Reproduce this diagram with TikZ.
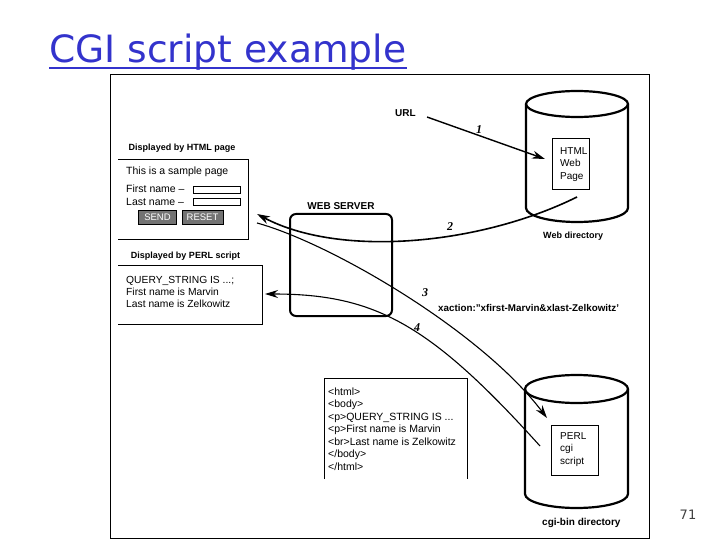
\documentclass[tikz,border=0pt]{standalone}
\usepackage{fontspec}
\setmainfont{Liberation Sans}
\newfontfamily\titlefont{DejaVu Sans}
\newfontfamily\numfont{Liberation Serif}
\usetikzlibrary{arrows.meta}
\definecolor{titleblue}{RGB}{51,51,204}
\begin{document}
\begin{tikzpicture}[x=1pt,y=-1pt,
  txt/.style={inner sep=0, anchor=west, font=\fontsize{10.5}{12}\selectfont},
  mtxt/.style={inner sep=0, anchor=north west, align=left, font=\fontsize{10.5}{12.5}\selectfont},
  boldlab/.style={inner sep=0, font=\fontsize{9}{10}\selectfont\bfseries},
  cylline/.style={line width=2.2pt},
  thinbox/.style={line width=0.9pt},
  arr/.style={-{Stealth[length=13pt,width=8pt]}, line width=1.2pt},
  num/.style={inner sep=0, font=\numfont\itshape\bfseries\fontsize{12}{12}\selectfont},
  btn/.style={draw, line width=0.8pt, fill=black!55, text=white, inner sep=0,
    minimum height=14pt, font=\fontsize{9.5}{10}\selectfont},
]
\useasboundingbox (0,0) rectangle (720,540);

% title
\node[anchor=base west, inner sep=0, text=titleblue,
  font=\titlefont\fontsize{37.6}{40}\selectfont] (title) at (49,63) {CGI script example};
\draw[titleblue, line width=1.6pt] (title.base west) ++(0,5) -- ++(358,0);

% frame
\draw[line width=1pt] (110,75) rectangle (649,538);

% web directory cylinder
\draw[cylline] (577,104) ellipse [x radius=51pt, y radius=13pt];
\draw[cylline] (526,104) -- (526,208) arc[start angle=180, end angle=360, x radius=51pt, y radius=14pt] -- (628,104);
\node[draw, thinbox, minimum width=37pt, minimum height=51pt, inner sep=0] (hbox) at (570.5,163.5) {};
\node[mtxt, font=\fontsize{10}{12.5}\selectfont] (htxt) at (560,147) {HTML\\Web\\Page};
\node[boldlab, anchor=west] (wdl) at (543,236) {Web directory};

% URL
\node[boldlab, anchor=west, font=\fontsize{10}{11}\selectfont\bfseries] (url) at (395,113) {URL};

% web server
\node[draw, line width=2pt, rounded corners=6pt, minimum width=102pt, minimum height=102pt, inner sep=0] (ws) at (341,265) {};
\node[boldlab, font=\fontsize{10}{11}\selectfont\bfseries] (wsl) at (341,206) {WEB SERVER};

% HTML page form
\node[boldlab] (formlab) at (182,148) {Displayed by HTML page};
\draw[thinbox] (118,159) -- (248,159) -- (248,239) -- (118,239);
\node[txt] (f1) at (126,172) {This is a sample page};
\node[txt] (f2) at (126,189) {First name --};
\node[txt] (f3) at (126,202) {Last name --};
\draw[line width=0.8pt] (193,186) rectangle (240,193);
\draw[line width=0.8pt] (193,198) rectangle (240,205);
\node[btn, minimum width=38pt] (send) at (157.5,217) {SEND};
\node[btn, minimum width=41pt] (reset) at (202.5,217) {RESET};

% PERL output
\node[boldlab] (perllab) at (185.5,256) {Displayed by PERL script};
\draw[thinbox] (118,265) -- (262,265) -- (262,324) -- (118,324);
\node[mtxt, font=\fontsize{10.3}{11.6}\selectfont] (ptxt) at (126,276.5) {QUERY\_STRING IS ...;\\First name is Marvin\\Last name is Zelkowitz};

% query label
\node[boldlab, anchor=west, font=\fontsize{9.8}{11}\selectfont\bfseries] (xact) at (438,308) {xaction:"xfirst-Marvin\&xlast-Zelkowitz'};

% HTML code box
\draw[thinbox] (324,479) -- (324,378) -- (467,378) -- (467,479);
\node[mtxt] (code) at (328,387.5) {<html>\\<body>\\<p>QUERY\_STRING IS ...\\<p>First name is Marvin\\<br>Last name is Zelkowitz\\</body>\\</html>};

% cgi-bin cylinder
\draw[cylline] (576.5,389) ellipse [x radius=51.5pt, y radius=14pt];
\draw[cylline] (525,389) -- (525,494) arc[start angle=180, end angle=360, x radius=51.5pt, y radius=14pt] -- (628,389);
\node[draw, thinbox, minimum width=47pt, minimum height=50pt, inner sep=0] (pbox) at (574.5,450) {};
\node[mtxt, font=\fontsize{10}{12.5}\selectfont] (ptxt2) at (560,432) {PERL\\cgi\\script};
\node[boldlab, anchor=west, font=\fontsize{10}{11}\selectfont\bfseries] (cgil) at (542,523) {cgi-bin directory};

% page number
\node[inner sep=0, text=black!75, font=\titlefont\fontsize{13}{14}\selectfont] (pg) at (688,515) {71};

% connectors
\coordinate (a1s) at (427,117);
\coordinate (a1e) at (545,159);
\coordinate (a2s) at (577,197);
\coordinate (a2e) at (257,214);
\coordinate (a3s) at (257,223);
\coordinate (a3e) at (547,418);
\coordinate (a4s) at (540,446);
\coordinate (a4e) at (265,294);
\draw[arr, line width=1.4pt] (a1s) -- (a1e);
\draw[arr, line width=1.6pt] (a2s) .. controls (480,245) and (340,258) .. (a2e);
\draw[arr, line width=1.1pt] (a3s) .. controls (330,243) and (480,330) .. (a3e);
\draw[arr, line width=1.1pt] (a4s) .. controls (430,324) and (375,294) .. (a4e);

% step numbers
\node[num] (n1) at (479,130) {1};
\node[num] (n2) at (450,227) {2};
\node[num] (n3) at (425,293) {3};
\node[num] (n4) at (417,328) {4};
\end{tikzpicture}
\end{document}
